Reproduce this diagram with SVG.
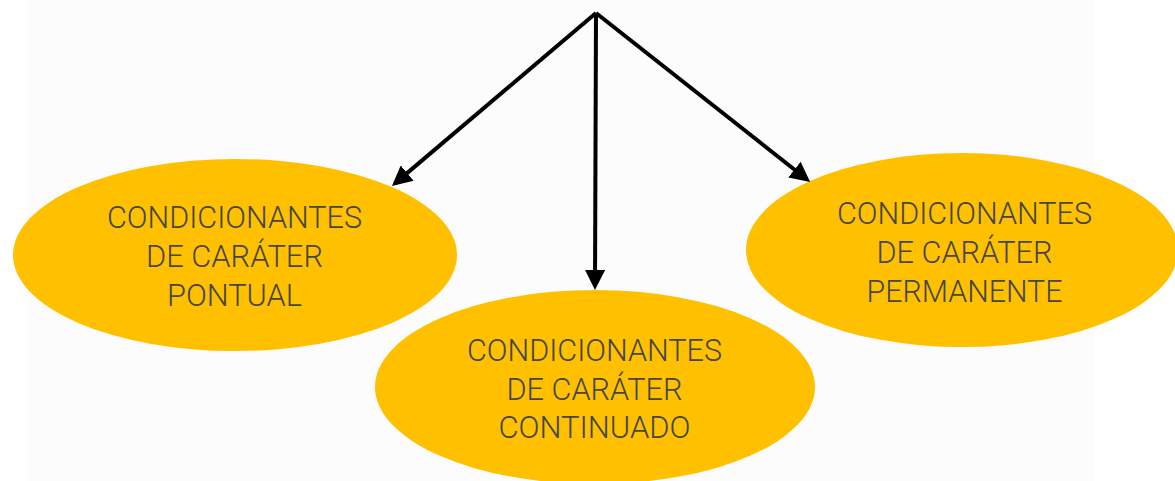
<svg xmlns="http://www.w3.org/2000/svg" width="1175" height="481" viewBox="0 0 1175 481">
<style>
.node ellipse{fill:#FFC000;}
.node text{font-family:Roboto,"Liberation Sans",sans-serif;font-weight:300;font-size:31px;fill:#464646;text-anchor:middle;}
.conn line{stroke:#000;stroke-width:4;marker-end:url(#ah);}
</style>
<defs>
<marker id="ah" markerWidth="5" markerHeight="5" refX="4" refY="2.5" orient="auto" markerUnits="strokeWidth">
<path d="M0,0 L5,2.5 L0,5 Z" fill="#000"/>
</marker>
</defs>
<rect x="0" y="0" width="1175" height="481" fill="#ffffff"/>
<rect x="28" y="0" width="1066" height="481" fill="#fcfcfc"/>
<g id="node-pontual" class="node">
<ellipse cx="235" cy="255" rx="222" ry="96"/>
<text x="234.5" y="228" textLength="255" lengthAdjust="spacingAndGlyphs">CONDICIONANTES</text>
<text x="234.5" y="267" textLength="177" lengthAdjust="spacingAndGlyphs">DE CARÁTER</text>
<text x="234.5" y="306" textLength="135" lengthAdjust="spacingAndGlyphs">PONTUAL</text>
</g>
<g id="node-continuado" class="node">
<ellipse cx="595" cy="387" rx="220" ry="97"/>
<text x="594.5" y="361" textLength="255" lengthAdjust="spacingAndGlyphs">CONDICIONANTES</text>
<text x="594.5" y="400" textLength="176" lengthAdjust="spacingAndGlyphs">DE CARÁTER</text>
<text x="594.5" y="438" textLength="192" lengthAdjust="spacingAndGlyphs">CONTINUADO</text>
</g>
<g id="node-permanente" class="node">
<ellipse cx="962" cy="250" rx="216" ry="97"/>
<text x="964.5" y="224" textLength="255" lengthAdjust="spacingAndGlyphs">CONDICIONANTES</text>
<text x="964.5" y="263" textLength="176" lengthAdjust="spacingAndGlyphs">DE CARÁTER</text>
<text x="964.5" y="302" textLength="196" lengthAdjust="spacingAndGlyphs">PERMANENTE</text>
</g>
<g id="connectors" class="conn">
<line x1="596" y1="13" x2="395" y2="183.4"/>
<line x1="596" y1="13" x2="595" y2="286"/>
<line x1="596" y1="13" x2="807" y2="179.5"/>
</g>
</svg>
